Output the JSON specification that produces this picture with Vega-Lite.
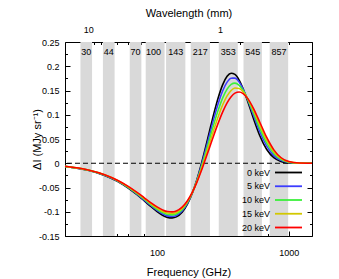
{
  "$schema": "https://vega.github.io/schema/vega-lite/v6.json",
  "width": 247,
  "height": 194,
  "autosize": "none",
  "padding": {"left": 65, "top": 42, "right": 27, "bottom": 43},
  "config": {
    "font": "Liberation Sans",
    "view": {"stroke": "black", "strokeWidth": 1},
    "axis": {"domain": false, "grid": false, "tickColor": "black", "tickWidth": 1, "labelColor": "black", "titleColor": "black", "labelFontSize": 9, "titleFontSize": 11, "titleFontWeight": "normal", "labelFont": "Liberation Sans", "titleFont": "Liberation Sans"},
    "legend": {"labelFont": "Liberation Sans", "labelFontSize": 9, "labelColor": "black", "padding": 0}
  },
  "datasets": {
    "bands": [
      {"lo": 26.2, "hi": 32.1, "mid": 29, "name": "30"},
      {"lo": 38.8, "hi": 47.6, "mid": 43, "name": "44"},
      {"lo": 62, "hi": 76, "mid": 68.6, "name": "70"},
      {"lo": 82, "hi": 114, "mid": 94, "name": "100"},
      {"lo": 117, "hi": 164, "mid": 138.5, "name": "143"},
      {"lo": 180, "hi": 252, "mid": 213, "name": "217"},
      {"lo": 294, "hi": 410, "mid": 347, "name": "353"},
      {"lo": 453, "hi": 625, "mid": 532, "name": "545"},
      {"lo": 716, "hi": 989, "mid": 842, "name": "857"}
    ],
    "lam": [{"lambda": 10, "v": 0}, {"lambda": 1, "v": 0}],
    "curves": [
      {"f":20,"T":"0 keV","v":-0.00666},{"f":30,"T":"0 keV","v":-0.0146},{"f":40,"T":"0 keV","v":-0.02503},{"f":50,"T":"0 keV","v":-0.03731},{"f":60,"T":"0 keV","v":-0.0507},{"f":70,"T":"0 keV","v":-0.06441},{"f":80,"T":"0 keV","v":-0.07764},{"f":90,"T":"0 keV","v":-0.08959},{"f":100,"T":"0 keV","v":-0.0996},{"f":110,"T":"0 keV","v":-0.10707},{"f":120,"T":"0 keV","v":-0.11157},{"f":130,"T":"0 keV","v":-0.11271},{"f":140,"T":"0 keV","v":-0.11061},{"f":155,"T":"0 keV","v":-0.101},{"f":170,"T":"0 keV","v":-0.08436},{"f":185,"T":"0 keV","v":-0.0618},{"f":200,"T":"0 keV","v":-0.03481},{"f":215,"T":"0 keV","v":-0.00505},{"f":230,"T":"0 keV","v":0.02584},{"f":250,"T":"0 keV","v":0.06616},{"f":270,"T":"0 keV","v":0.10278},{"f":290,"T":"0 keV","v":0.13358},{"f":315,"T":"0 keV","v":0.16216},{"f":340,"T":"0 keV","v":0.17925},{"f":365,"T":"0 keV","v":0.18568},{"f":390,"T":"0 keV","v":0.18322},{"f":420,"T":"0 keV","v":0.17151},{"f":450,"T":"0 keV","v":0.15372},{"f":490,"T":"0 keV","v":0.12586},{"f":540,"T":"0 keV","v":0.09154},{"f":600,"T":"0 keV","v":0.05778},{"f":680,"T":"0 keV","v":0.02829},{"f":770,"T":"0 keV","v":0.01143},{"f":870,"T":"0 keV","v":0.00379},{"f":1000,"T":"0 keV","v":0.00081},{"f":1200,"T":"0 keV","v":0.00006},{"f":1500,"T":"0 keV","v":0},
      {"f":20,"T":"5 keV","v":-0.00657},{"f":30,"T":"5 keV","v":-0.0144},{"f":40,"T":"5 keV","v":-0.02466},{"f":50,"T":"5 keV","v":-0.03671},{"f":60,"T":"5 keV","v":-0.04982},{"f":70,"T":"5 keV","v":-0.06318},{"f":80,"T":"5 keV","v":-0.07603},{"f":90,"T":"5 keV","v":-0.08758},{"f":100,"T":"5 keV","v":-0.0972},{"f":110,"T":"5 keV","v":-0.10433},{"f":120,"T":"5 keV","v":-0.10857},{"f":130,"T":"5 keV","v":-0.10959},{"f":140,"T":"5 keV","v":-0.10753},{"f":155,"T":"5 keV","v":-0.09834},{"f":170,"T":"5 keV","v":-0.08258},{"f":185,"T":"5 keV","v":-0.06137},{"f":200,"T":"5 keV","v":-0.03611},{"f":215,"T":"5 keV","v":-0.00834},{"f":230,"T":"5 keV","v":0.02046},{"f":250,"T":"5 keV","v":0.05809},{"f":270,"T":"5 keV","v":0.09245},{"f":290,"T":"5 keV","v":0.1217},{"f":315,"T":"5 keV","v":0.14953},{"f":340,"T":"5 keV","v":0.1672},{"f":365,"T":"5 keV","v":0.17537},{"f":390,"T":"5 keV","v":0.17544},{"f":420,"T":"5 keV","v":0.16731},{"f":450,"T":"5 keV","v":0.15311},{"f":490,"T":"5 keV","v":0.12933},{"f":540,"T":"5 keV","v":0.0983},{"f":600,"T":"5 keV","v":0.06585},{"f":680,"T":"5 keV","v":0.03521},{"f":770,"T":"5 keV","v":0.01584},{"f":870,"T":"5 keV","v":0.00596},{"f":1000,"T":"5 keV","v":0.0015},{"f":1200,"T":"5 keV","v":0.00015},{"f":1500,"T":"5 keV","v":0},
      {"f":20,"T":"10 keV","v":-0.00649},{"f":30,"T":"10 keV","v":-0.0142},{"f":40,"T":"10 keV","v":-0.02429},{"f":50,"T":"10 keV","v":-0.03612},{"f":60,"T":"10 keV","v":-0.04893},{"f":70,"T":"10 keV","v":-0.06195},{"f":80,"T":"10 keV","v":-0.07441},{"f":90,"T":"10 keV","v":-0.08557},{"f":100,"T":"10 keV","v":-0.09479},{"f":110,"T":"10 keV","v":-0.10158},{"f":120,"T":"10 keV","v":-0.10558},{"f":130,"T":"10 keV","v":-0.10648},{"f":140,"T":"10 keV","v":-0.10444},{"f":155,"T":"10 keV","v":-0.09568},{"f":170,"T":"10 keV","v":-0.08081},{"f":185,"T":"10 keV","v":-0.06093},{"f":200,"T":"10 keV","v":-0.0374},{"f":215,"T":"10 keV","v":-0.01162},{"f":230,"T":"10 keV","v":0.01485},{"f":250,"T":"10 keV","v":0.04927},{"f":270,"T":"10 keV","v":0.08089},{"f":290,"T":"10 keV","v":0.10816},{"f":315,"T":"10 keV","v":0.13485},{"f":340,"T":"10 keV","v":0.15283},{"f":365,"T":"10 keV","v":0.16258},{"f":390,"T":"10 keV","v":0.16515},{"f":420,"T":"10 keV","v":0.16065},{"f":450,"T":"10 keV","v":0.1502},{"f":490,"T":"10 keV","v":0.13082},{"f":540,"T":"10 keV","v":0.10349},{"f":600,"T":"10 keV","v":0.07281},{"f":680,"T":"10 keV","v":0.0415},{"f":770,"T":"10 keV","v":0.01996},{"f":870,"T":"10 keV","v":0.00802},{"f":1000,"T":"10 keV","v":0.00217},{"f":1200,"T":"10 keV","v":0.00024},{"f":1500,"T":"10 keV","v":0},
      {"f":20,"T":"15 keV","v":-0.0064},{"f":30,"T":"15 keV","v":-0.014},{"f":40,"T":"15 keV","v":-0.02392},{"f":50,"T":"15 keV","v":-0.03552},{"f":60,"T":"15 keV","v":-0.04805},{"f":70,"T":"15 keV","v":-0.06073},{"f":80,"T":"15 keV","v":-0.0728},{"f":90,"T":"15 keV","v":-0.08355},{"f":100,"T":"15 keV","v":-0.09239},{"f":110,"T":"15 keV","v":-0.09884},{"f":120,"T":"15 keV","v":-0.10258},{"f":130,"T":"15 keV","v":-0.10336},{"f":140,"T":"15 keV","v":-0.10136},{"f":155,"T":"15 keV","v":-0.09301},{"f":170,"T":"15 keV","v":-0.07903},{"f":185,"T":"15 keV","v":-0.0605},{"f":200,"T":"15 keV","v":-0.03869},{"f":215,"T":"15 keV","v":-0.0149},{"f":230,"T":"15 keV","v":0.00941},{"f":250,"T":"15 keV","v":0.04069},{"f":270,"T":"15 keV","v":0.06964},{"f":290,"T":"15 keV","v":0.09499},{"f":315,"T":"15 keV","v":0.12053},{"f":340,"T":"15 keV","v":0.13883},{"f":365,"T":"15 keV","v":0.15011},{"f":390,"T":"15 keV","v":0.15509},{"f":420,"T":"15 keV","v":0.15413},{"f":450,"T":"15 keV","v":0.14732},{"f":490,"T":"15 keV","v":0.13219},{"f":540,"T":"15 keV","v":0.10848},{"f":600,"T":"15 keV","v":0.07953},{"f":680,"T":"15 keV","v":0.04758},{"f":770,"T":"15 keV","v":0.02394},{"f":870,"T":"15 keV","v":0.01},{"f":1000,"T":"15 keV","v":0.0028},{"f":1200,"T":"15 keV","v":0.00032},{"f":1500,"T":"15 keV","v":0},
      {"f":20,"T":"20 keV","v":-0.00631},{"f":30,"T":"20 keV","v":-0.0138},{"f":40,"T":"20 keV","v":-0.02355},{"f":50,"T":"20 keV","v":-0.03492},{"f":60,"T":"20 keV","v":-0.04716},{"f":70,"T":"20 keV","v":-0.0595},{"f":80,"T":"20 keV","v":-0.07119},{"f":90,"T":"20 keV","v":-0.08154},{"f":100,"T":"20 keV","v":-0.08998},{"f":110,"T":"20 keV","v":-0.0961},{"f":120,"T":"20 keV","v":-0.09959},{"f":130,"T":"20 keV","v":-0.10024},{"f":140,"T":"20 keV","v":-0.09828},{"f":155,"T":"20 keV","v":-0.09035},{"f":170,"T":"20 keV","v":-0.07725},{"f":185,"T":"20 keV","v":-0.06007},{"f":200,"T":"20 keV","v":-0.03999},{"f":215,"T":"20 keV","v":-0.01818},{"f":230,"T":"20 keV","v":0.0041},{"f":250,"T":"20 keV","v":0.03218},{"f":270,"T":"20 keV","v":0.05839},{"f":290,"T":"20 keV","v":0.08175},{"f":315,"T":"20 keV","v":0.10605},{"f":340,"T":"20 keV","v":0.12453},{"f":365,"T":"20 keV","v":0.13722},{"f":390,"T":"20 keV","v":0.1445},{"f":420,"T":"20 keV","v":0.14697},{"f":450,"T":"20 keV","v":0.14371},{"f":490,"T":"20 keV","v":0.13276},{"f":540,"T":"20 keV","v":0.11267},{"f":600,"T":"20 keV","v":0.08555},{"f":680,"T":"20 keV","v":0.05317},{"f":770,"T":"20 keV","v":0.02764},{"f":870,"T":"20 keV","v":0.01187},{"f":1000,"T":"20 keV","v":0.00341},{"f":1200,"T":"20 keV","v":0.00039},{"f":1500,"T":"20 keV","v":0}
    ]
  },
  "layer": [
    {
      "data": {"name": "bands"},
      "mark": {"type": "rect", "color": "#d9d9d9"},
      "encoding": {
        "x": {"field": "lo", "type": "quantitative", "scale": {"type": "log", "domain": [20, 1500], "nice": false}, "axis": null},
        "x2": {"field": "hi"}
      }
    },
    {
      "data": {"name": "bands"},
      "mark": {"type": "text", "fontSize": 9, "color": "black", "baseline": "middle"},
      "encoding": {
        "x": {"field": "mid", "type": "quantitative", "scale": {"type": "log", "domain": [20, 1500], "nice": false}, "axis": null},
        "y": {"datum": 0.23, "type": "quantitative", "scale": {"domain": [-0.15, 0.25], "nice": false, "zero": false}, "axis": null},
        "text": {"field": "name"}
      }
    },
    {
      "data": {"values": [{}]},
      "mark": {"type": "rule", "color": "black", "strokeWidth": 1, "strokeDash": [5, 3]},
      "encoding": {
        "y": {"datum": 0, "type": "quantitative", "scale": {"domain": [-0.15, 0.25], "nice": false, "zero": false}, "axis": null}
      }
    },
    {
      "data": {"name": "curves"},
      "mark": {"type": "line", "strokeWidth": 1.6, "interpolate": "monotone"},
      "encoding": {
        "x": {"field": "f", "type": "quantitative", "scale": {"type": "log", "domain": [20, 1500], "nice": false},
              "axis": {"orient": "bottom", "values": [100, 1000], "format": "d", "tickSize": -5, "labelPadding": 17, "title": "Frequency (GHz)", "titlePadding": 9}},
        "y": {"field": "v", "type": "quantitative", "scale": {"domain": [-0.15, 0.25], "nice": false, "zero": false},
              "axis": {"orient": "left", "values": [-0.15, -0.1, -0.05, 0, 0.05, 0.1, 0.15, 0.2, 0.25], "labelExpr": "replace(format(datum.value, '~g'), '\u2212', '-')", "tickSize": -5, "labelPadding": 11, "title": "ΔI (MJy sr⁻¹)", "titlePadding": -4}},
        "color": {"field": "T", "type": "nominal",
                  "scale": {"domain": ["0 keV", "5 keV", "10 keV", "15 keV", "20 keV"], "range": ["#000000", "#3c3cff", "#3cf03c", "#d2c800", "#ff0000"]},
                  "legend": {"orient": "none", "legendX": 218, "legendY": 125, "title": null, "symbolType": "M-3,0H3", "symbolSize": 81, "symbolStrokeWidth": 1.8, "labelAlign": "right", "labelOffset": -24, "rowPadding": 2.75}}
      }
    },
    {
      "data": {"name": "curves"},
      "mark": {"type": "point", "opacity": 0},
      "encoding": {
        "x": {"field": "f", "type": "quantitative", "scale": {"type": "log", "domain": [20, 1500], "nice": false},
              "axis": {"orient": "bottom", "values": [20, 30, 40, 50, 60, 70, 80, 90, 200, 300, 400, 500, 600, 700, 800, 900], "labels": false, "tickSize": -2.5, "title": null}},
        "y": {"field": "v", "type": "quantitative", "scale": {"domain": [-0.15, 0.25], "nice": false, "zero": false},
              "axis": {"orient": "left", "values": [-0.125, -0.075, -0.025, 0.025, 0.075, 0.125, 0.175, 0.225], "labels": false, "tickSize": -2.5, "title": null}}
      }
    },
    {
      "data": {"name": "lam"},
      "mark": {"type": "point", "opacity": 0},
      "encoding": {
        "x": {"field": "lambda", "type": "quantitative", "scale": {"type": "log", "domain": [14.9896, 0.199862], "nice": false},
              "axis": {"orient": "top", "values": [10, 1], "format": "d", "tickSize": -5, "labelPadding": 13, "title": "Wavelength (mm)", "titlePadding": 7}},
        "y": {"field": "v", "type": "quantitative", "scale": {"domain": [-0.15, 0.25], "nice": false, "zero": false},
              "axis": {"orient": "right", "values": [-0.15, -0.1, -0.05, 0, 0.05, 0.1, 0.15, 0.2, 0.25], "labels": false, "tickSize": -5, "title": null}}
      }
    },
    {
      "data": {"name": "lam"},
      "mark": {"type": "point", "opacity": 0},
      "encoding": {
        "x": {"field": "lambda", "type": "quantitative", "scale": {"type": "log", "domain": [14.9896, 0.199862], "nice": false},
              "axis": {"orient": "top", "values": [9, 8, 7, 6, 5, 4, 3, 2, 0.9, 0.8, 0.7, 0.6, 0.5, 0.4, 0.3, 0.2], "labels": false, "tickSize": -2.5, "title": null}},
        "y": {"field": "v", "type": "quantitative", "scale": {"domain": [-0.15, 0.25], "nice": false, "zero": false},
              "axis": {"orient": "right", "values": [-0.125, -0.075, -0.025, 0.025, 0.075, 0.125, 0.175, 0.225], "labels": false, "tickSize": -2.5, "title": null}}
      }
    }
  ],
  "resolve": {"scale": {"x": "independent"}, "axis": {"x": "independent", "y": "independent"}}
}
